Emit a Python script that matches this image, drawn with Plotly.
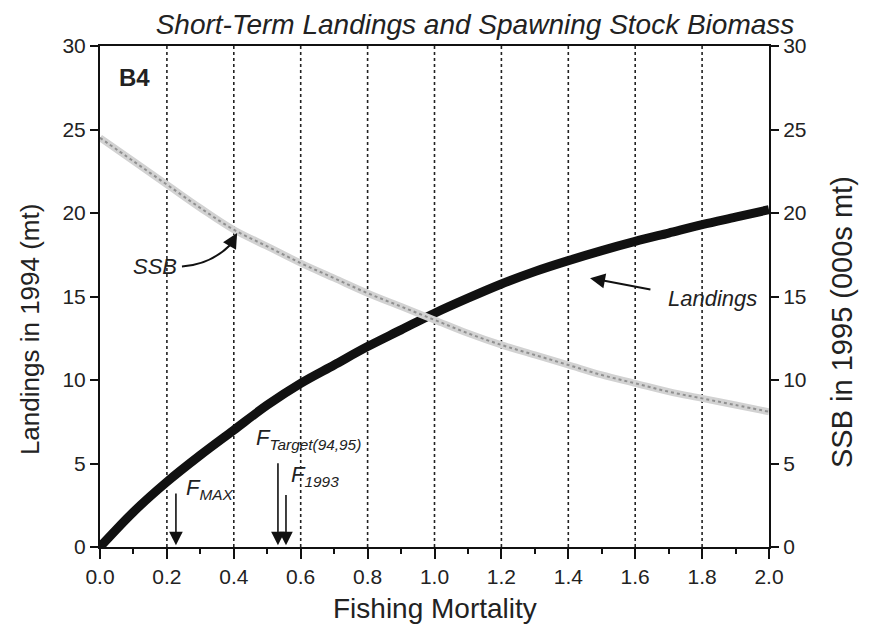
import plotly.graph_objects as go

F = [0.0, 0.1, 0.2, 0.3, 0.4, 0.5, 0.6, 0.7, 0.8, 0.9, 1.0,
     1.1, 1.2, 1.3, 1.4, 1.5, 1.6, 1.7, 1.8, 1.9, 2.0]
landings = [0.0, 2.1, 3.9, 5.5, 7.0, 8.5, 9.8, 10.9, 12.0, 13.0, 14.0,
            14.9, 15.75, 16.5, 17.15, 17.75, 18.3, 18.8, 19.3, 19.75, 20.2]
ssb = [24.5, 23.1, 21.7, 20.3, 19.0, 18.0, 17.0, 16.1, 15.2, 14.4, 13.6,
       12.8, 12.1, 11.5, 10.9, 10.3, 9.8, 9.3, 8.9, 8.5, 8.1]

x_ticks = [0.0, 0.2, 0.4, 0.6, 0.8, 1.0, 1.2, 1.4, 1.6, 1.8, 2.0]
y_ticks = [0, 5, 10, 15, 20, 25, 30]

ref_points = {"F_MAX": 0.227, "F_Target": 0.532, "F_1993": 0.556}

FONT = "Liberation Sans Narrow, Liberation Sans, Arial, sans-serif"
INK = "#222222"

fig = go.Figure()

fig.add_trace(go.Scatter(x=F, y=ssb, mode="lines", yaxis="y2",
                         line=dict(color="#d2d2d2", width=7, shape="spline"),
                         showlegend=False, hoverinfo="skip"))
fig.add_trace(go.Scatter(x=F, y=ssb, mode="lines", yaxis="y2",
                         line=dict(color="#909090", width=2, dash="dot", shape="spline"),
                         showlegend=False, hoverinfo="skip"))
fig.add_trace(go.Scatter(x=F, y=landings, mode="lines",
                         line=dict(color="#111111", width=9, shape="spline"),
                         showlegend=False, hoverinfo="skip"))

# vertical dotted gridlines
for xv in x_ticks[1:-1]:
    fig.add_shape(type="line", x0=xv, x1=xv, y0=0, y1=30, xref="x", yref="y",
                  line=dict(color=INK, width=1.6, dash="dot"), layer="below")

arrow_kw = dict(showarrow=True, arrowhead=2, arrowsize=1.7, arrowwidth=1.6,
                arrowcolor="#111111", axref="x", ayref="y", text="")
fig.add_annotation(x=ref_points["F_MAX"], y=0.1, ax=ref_points["F_MAX"], ay=3.3, **arrow_kw)
fig.add_annotation(x=ref_points["F_Target"], y=0.1, ax=ref_points["F_Target"], ay=5.1, **arrow_kw)
fig.add_annotation(x=ref_points["F_1993"], y=0.1, ax=ref_points["F_1993"], ay=3.2, **arrow_kw)

txt = dict(family=FONT, size=22, color=INK)
fig.add_annotation(x=0.25, y=2.5, xanchor="left", yanchor="bottom", showarrow=False,
                   text="<i>F<sub>MAX</sub></i>", font=txt)
fig.add_annotation(x=0.46, y=5.5, xanchor="left", yanchor="bottom", showarrow=False,
                   text="<i>F<sub>Target(94,95)</sub></i>", font=txt)
fig.add_annotation(x=0.565, y=3.3, xanchor="left", yanchor="bottom", showarrow=False,
                   text="<i>F<sub>1993</sub></i>", font=txt)

# SSB label with curved arrow
fig.add_shape(type="path", xref="x", yref="y",
              path="M 0.245 16.8 Q 0.33 16.9 0.39 18.1",
              line=dict(color="#111111", width=2))
fig.add_annotation(x=0.41, y=18.8, ax=0.385, ay=17.95, axref="x", ayref="y",
                   showarrow=True, arrowhead=2, arrowsize=1.5, arrowwidth=2,
                   arrowcolor="#111111", text="")
fig.add_annotation(x=0.235, y=16.8, xanchor="right", yanchor="middle", showarrow=False,
                   text="<i>SSB</i>", font=txt)

# Landings label
fig.add_annotation(x=1.465, y=16.1, ax=1.65, ay=15.4, axref="x", ayref="y",
                   showarrow=True, arrowhead=2, arrowsize=1.5, arrowwidth=2,
                   arrowcolor="#111111", text="")
fig.add_annotation(x=1.97, y=14.9, xanchor="right", yanchor="middle", showarrow=False,
                   text="<i>Landings</i>", font=txt)

fig.add_annotation(x=0.05, y=28.1, xanchor="left", yanchor="middle", showarrow=False,
                   text="<b>B4</b>", font=dict(family="Liberation Sans, Arial", size=24, color=INK))

# axis titles as annotations
fig.add_annotation(xref="paper", yref="paper", x=-0.1046, y=0.433, showarrow=False,
                   textangle=-90, xanchor="center", yanchor="middle",
                   text="Landings in 1994 (mt)", font=dict(family=FONT, size=26, color=INK))
fig.add_annotation(xref="paper", yref="paper", x=1.109, y=0.449, showarrow=False,
                   textangle=-90, xanchor="center", yanchor="middle",
                   text="SSB in 1995 (000s mt)", font=dict(family=FONT, size=29, color=INK))
fig.add_annotation(xref="paper", yref="paper", x=0.5, y=-0.122, showarrow=False,
                   xanchor="center", yanchor="middle",
                   text="Fishing Mortality", font=dict(family=FONT, size=28, color=INK))

axis_common = dict(showgrid=False, zeroline=False, showline=True, linecolor="#111111",
                   linewidth=2, ticks="outside", tickcolor="#111111", tickwidth=1.5,
                   automargin=False,
                   tickfont=dict(family=FONT, size=21, color=INK))

fig.update_layout(
    width=868, height=622,
    paper_bgcolor="white", plot_bgcolor="white",
    margin=dict(l=92, r=107, t=38, b=83),
    title=dict(text="<i>Short-Term Landings and Spawning Stock Biomass</i>",
               x=0.538, xanchor="center", y=0.9745, yanchor="middle",
               font=dict(family=FONT, size=28, color=INK)),
    xaxis=dict(range=[0, 2.0], tickvals=x_ticks, ticktext=[f"{v:.1f}" for v in x_ticks],
               ticklen=10, mirror=True,
               minor=dict(tickvals=[i / 10 for i in range(1, 20, 2)], ticks="outside",
                          ticklen=5, tickcolor="#111111", tickwidth=1.5),
               **axis_common),
    yaxis=dict(range=[0, 30], tickvals=y_ticks, ticklen=8, **axis_common),
    yaxis2=dict(range=[0, 30], tickvals=y_ticks, ticklen=8, overlaying="y", side="right",
                **axis_common),
)

fig.write_html("out.html")
